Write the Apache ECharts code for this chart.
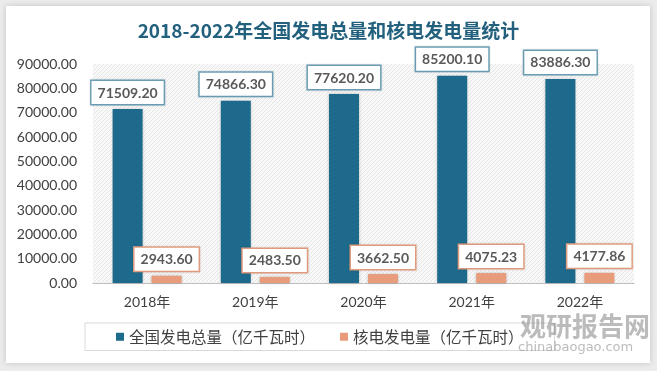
<!DOCTYPE html>
<html><head><meta charset="utf-8">
<script src="https://cdn.jsdelivr.net/npm/echarts@6/dist/echarts.min.js"></script>
<style>html,body{margin:0;padding:0;background:#ececec;}#c{width:657px;height:371px;}</style>
</head><body><div id="c"></div>
<script>
const categories = ['2018年', '2019年', '2020年', '2021年', '2022年'];
const totalGen = [71509.20, 74866.30, 77620.20, 85200.10, 83886.30];
const nuclearGen = [2943.60, 2483.50, 3662.50, 4075.23, 4177.86];
const seriesNames = ['全国发电总量（亿千瓦时）', '核电发电量（亿千瓦时）'];

// hatch pattern for plot background
const pc = document.createElement('canvas');
pc.width = 4; pc.height = 4;
const px = pc.getContext('2d');
px.fillStyle = '#f8f8f8'; px.fillRect(0, 0, 4, 4);
px.strokeStyle = '#e6e6e6'; px.lineWidth = 1;
px.beginPath(); px.moveTo(0, 4); px.lineTo(4, 0); px.stroke();
px.beginPath(); px.moveTo(-1, 1); px.lineTo(1, -1); px.stroke();
px.beginPath(); px.moveTo(3, 5); px.lineTo(5, 3); px.stroke();

const chart = echarts.init(document.getElementById('c'));
const labelCommon = {
  show: true, position: 'top', distance: 5,
  fontFamily: 'Lato', fontWeight: 'bold', fontSize: 14, color: '#595959',
  backgroundColor: '#fff', borderWidth: 1.5, padding: [5, 6, 4, 6],
  shadowColor: 'rgba(0,0,0,0.15)', shadowBlur: 2,
  formatter: p => p.value.toFixed(2)
};
chart.setOption({
  backgroundColor: '#ececec',
  animation: false,
  graphic: [
    { type: 'rect', shape: { x: 6, y: 6, width: 644, height: 357 }, style: { fill: '#fff', shadowColor: 'rgba(0,0,0,0.18)', shadowBlur: 6 }, z: -10 },
    { type: 'rect', shape: { x: 93, y: 64, width: 541, height: 219 }, style: { fill: { image: pc, repeat: 'repeat' } }, z: -5 },
    { type: 'text', left: 520, top: 313, style: { text: '观研报告网', font: 'bold 26px "Noto Sans CJK SC"', fill: 'rgba(120,120,120,0.5)' }, z: 10 },
    { type: 'text', left: 518, top: 341, style: { text: 'chinabaogao.com', font: '13px "DejaVu Sans"', fill: 'rgba(120,120,120,0.5)' }, z: 10 }
  ],
  title: {
    text: '2018-2022年全国发电总量和核电发电量统计',
    left: 'center', top: 16,
    textStyle: { fontFamily: 'Noto Sans CJK SC', fontWeight: 'bold', fontSize: 19, color: '#22607e' }
  },
  legend: {
    data: seriesNames, left: 85, top: 323, width: 488,
    icon: 'rect', itemWidth: 8, itemHeight: 8, itemGap: 25,
    borderColor: '#d9d9d9', borderWidth: 1, padding: [6, 31, 6, 31],
    textStyle: { fontFamily: 'Noto Sans CJK SC', fontSize: 15.5, color: '#404040' }
  },
  grid: { left: 93, right: 23, top: 64, bottom: 88 },
  xAxis: {
    type: 'category', data: categories,
    axisLine: { lineStyle: { color: '#bfbfbf', width: 1 } },
    axisTick: { show: false },
    axisLabel: { fontFamily: 'Lato, "Noto Sans CJK SC"', fontSize: 14, color: '#404040', margin: 12 }
  },
  yAxis: {
    type: 'value', min: 0, max: 90000, interval: 10000,
    axisLine: { show: false }, axisTick: { show: false }, splitLine: { show: false },
    axisLabel: { fontFamily: 'Lato', fontSize: 14, color: '#404040', margin: 16, formatter: v => v.toFixed(2) }
  },
  series: [
    { name: seriesNames[0], type: 'bar', data: totalGen, barWidth: 30, barGap: '30%',
      itemStyle: { color: '#1d6a8c', shadowColor: 'rgba(0,0,0,0.25)', shadowBlur: 3 },
      label: Object.assign({}, labelCommon, { borderColor: '#6fa3bb' }) },
    { name: seriesNames[1], type: 'bar', data: nuclearGen, barWidth: 30,
      itemStyle: { color: '#e89c7c', shadowColor: 'rgba(0,0,0,0.25)', shadowBlur: 3 },
      label: Object.assign({}, labelCommon, { borderColor: '#e9a283' }) }
  ]
});
</script></body></html>
